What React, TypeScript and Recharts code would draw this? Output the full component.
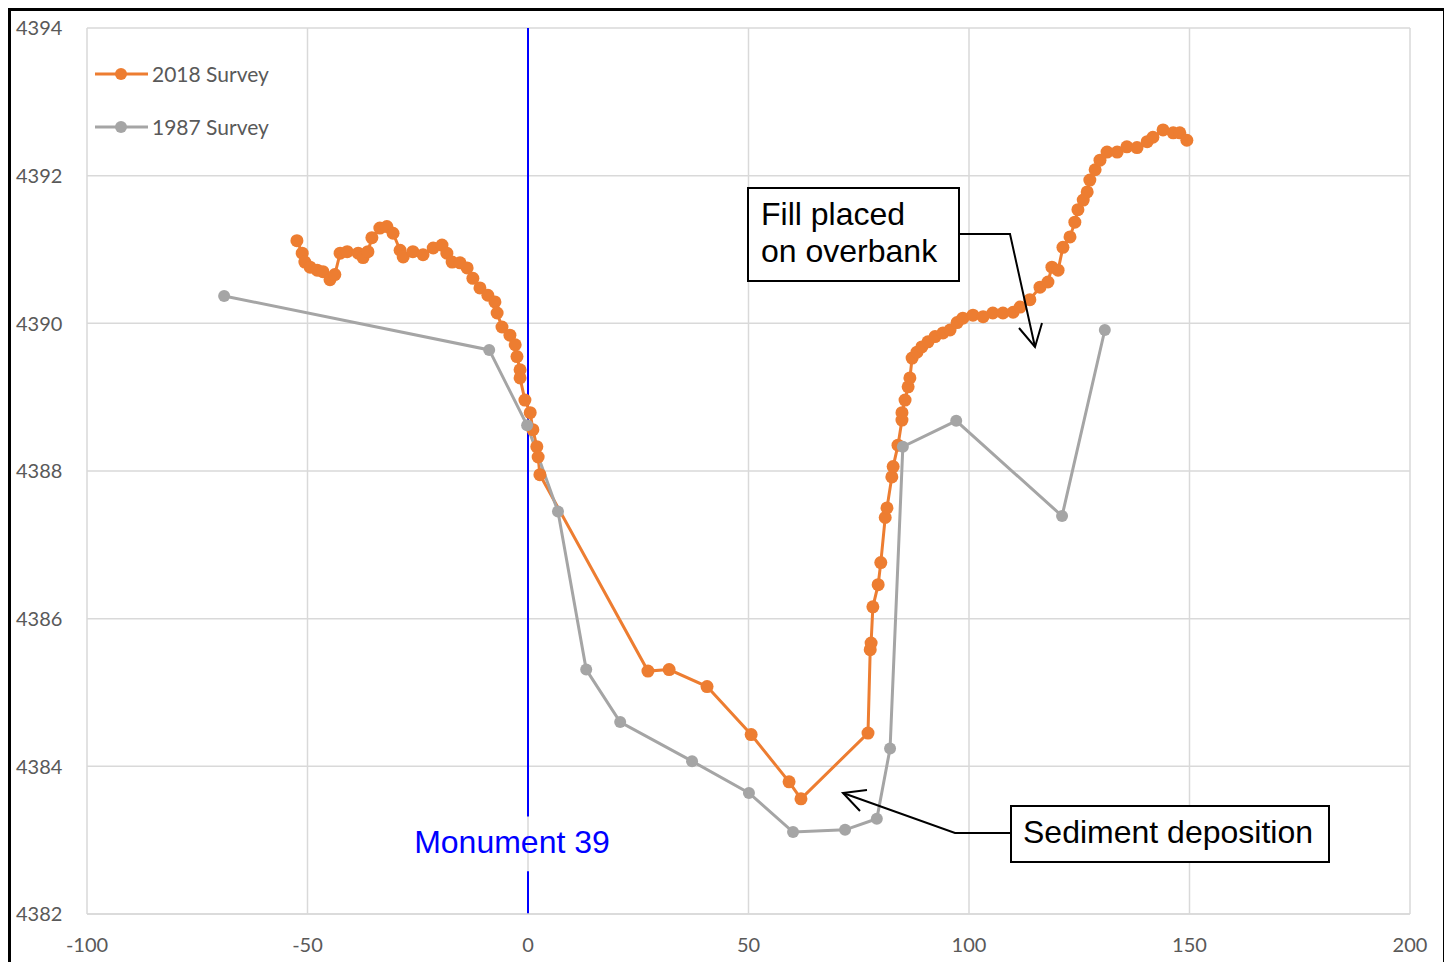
import React from 'react';
import { LineChart, Line, XAxis, YAxis, CartesianGrid, ReferenceLine } from 'recharts';

// ---- Data ----
const xTicks = [-100, -50, 0, 50, 100, 150, 200];
const yTicks = [4382, 4384, 4386, 4388, 4390, 4392, 4394];

const survey2018Station = [
  -52.4, -51.2, -50.6, -49.4, -47.8, -46.5, -44.9, -43.8, -42.6, -41.0,
  -38.5, -37.4, -36.3, -35.4, -33.6, -32.0, -30.6, -29.0, -28.3, -26.1,
  -23.8, -21.5, -19.5, -18.4, -17.2, -15.4, -13.8, -12.5, -10.9, -9.1,
  -7.5, -7.0, -5.9, -4.1, -2.9, -2.5, -1.8, -1.8, -0.7, 0.5,
  1.1, 2.0, 2.3, 2.7, 27.2, 32.0, 40.6, 50.6, 59.2, 61.9,
  77.1, 77.6, 77.8, 78.2, 79.4, 80.0, 81.0, 81.4, 82.5, 82.8,
  83.9, 84.8, 84.8, 85.5, 86.2, 86.6, 87.1, 88.2, 89.3, 90.7,
  92.3, 94.1, 95.7, 97.3, 98.6, 100.9, 103.2, 105.4, 107.7, 110.0,
  111.6, 113.8, 116.1, 117.9, 118.8, 120.2, 121.3, 122.9, 124.0, 124.7,
  125.9, 126.8, 127.4, 128.6, 129.7, 131.3, 133.6, 135.8, 138.1, 140.4,
  141.7, 144.0, 146.3, 147.8, 149.4,
];
const survey2018Elev = [
  4391.12, 4390.95, 4390.83, 4390.76, 4390.72, 4390.70, 4390.59, 4390.66, 4390.95, 4390.97,
  4390.95, 4390.89, 4390.97, 4391.16, 4391.29, 4391.31, 4391.22, 4390.99, 4390.90, 4390.97,
  4390.93, 4391.02, 4391.06, 4390.95, 4390.83, 4390.82, 4390.75, 4390.61, 4390.48, 4390.38,
  4390.29, 4390.14, 4389.95, 4389.84, 4389.71, 4389.55, 4389.37, 4389.26, 4388.96, 4388.79,
  4388.56, 4388.33, 4388.19, 4387.95, 4385.29, 4385.31, 4385.08, 4384.43, 4383.79, 4383.56,
  4384.45, 4385.58, 4385.67, 4386.16, 4386.46, 4386.76, 4387.37, 4387.50, 4387.92, 4388.06,
  4388.35, 4388.69, 4388.79, 4388.96, 4389.14, 4389.26, 4389.53, 4389.61, 4389.68, 4389.75,
  4389.82, 4389.87, 4389.91, 4390.01, 4390.07, 4390.11, 4390.09, 4390.14, 4390.14, 4390.15,
  4390.22, 4390.32, 4390.49, 4390.56, 4390.76, 4390.72, 4391.03, 4391.17, 4391.37, 4391.54,
  4391.67, 4391.78, 4391.94, 4392.08, 4392.21, 4392.32, 4392.32, 4392.39, 4392.38, 4392.46,
  4392.52, 4392.62, 4392.58, 4392.58, 4392.48,
];

const survey1987Station = [-68.9, -8.8, -0.2, 6.8, 13.2, 20.9, 37.2, 50.1, 60.1, 71.9, 79.1, 82.1, 85.0, 97.1, 121.1, 130.8];
const survey1987Elev = [4390.37, 4389.64, 4388.62, 4387.45, 4385.31, 4384.60, 4384.07, 4383.64, 4383.11, 4383.14, 4383.29, 4384.24, 4388.33, 4388.68, 4387.39, 4389.91];

const seriesNames = ['2018 Survey', '1987 Survey'];
const seriesColors = ['#ED7D31', '#A5A5A5'];

const data2018 = survey2018Station.map((x, i) => ({ x, y: survey2018Elev[i] }));
const data1987 = survey1987Station.map((x, i) => ({ x, y: survey1987Elev[i] }));

const TICK_FONT = 'Lato, "Open Sans", sans-serif';
const ANNOT_FONT = '"Liberation Sans", Arial, sans-serif';

const YTick = (props: any) => {
  const { y, payload } = props;
  return (
    <text x={5} y={y} dy="0.36em" fill="#595959" fontFamily={TICK_FONT} fontSize={20}>
      {payload.value}
    </text>
  );
};

const XTick = (props: any) => {
  const { x, payload } = props;
  return (
    <text x={x} y={934} dy="0.36em" textAnchor="middle" fill="#595959" fontFamily={TICK_FONT} fontSize={20}>
      {payload.value}
    </text>
  );
};

const Overlay = () => (
  <svg
    width={1432}
    height={950}
    style={{ position: 'absolute', left: 0, top: 0, pointerEvents: 'none' }}
  >
    {/* Legend */}
    {seriesNames.map((name, i) => {
      const cy = 63 + i * 53;
      return (
        <g key={name}>
          <line x1={84} x2={137} y1={cy} y2={cy} stroke={seriesColors[i]} strokeWidth={3} />
          <circle cx={110} cy={cy} r={6} fill={seriesColors[i]} />
          <text x={141} y={cy} dy="0.36em" fill="#595959" fontFamily={TICK_FONT} fontSize={21}>
            {name}
          </text>
        </g>
      );
    })}

    {/* Monument label */}
    <text x={501} y={842} textAnchor="middle" fill="#0000FF" fontFamily={ANNOT_FONT} fontSize={32}>
      Monument 39
    </text>

    {/* Fill placed annotation */}
    <rect x={737} y={177} width={211} height={93} fill="#fff" stroke="#000" strokeWidth={2} />
    <text x={750} y={214} fill="#000" fontFamily={ANNOT_FONT} fontSize={32}>Fill placed</text>
    <text x={750} y={251} fill="#000" fontFamily={ANNOT_FONT} fontSize={32}>on overbank</text>
    <polyline points="948,223 999,223 1024,336" fill="none" stroke="#000" strokeWidth={2} />
    <polyline points="1008,317 1024,336 1031,312" fill="none" stroke="#000" strokeWidth={2} />

    {/* Sediment deposition annotation */}
    <rect x={1000} y={795} width={318} height={56} fill="#fff" stroke="#000" strokeWidth={2} />
    <text x={1012} y={832} fill="#000" fontFamily={ANNOT_FONT} fontSize={32}>Sediment deposition</text>
    <polyline points="1000,822 944,822 832,782" fill="none" stroke="#000" strokeWidth={2} />
    <polyline points="856,779 832,782 849,800" fill="none" stroke="#000" strokeWidth={2} />
  </svg>
);

export default function App() {
  return (
    <div
      style={{
        position: 'relative',
        width: 1432,
        height: 960,
        border: '3px solid #000',
        background: '#fff',
      }}
    >
      <LineChart width={1432} height={950} margin={{ top: 17, right: 33, left: 0, bottom: 0 }}>
        <CartesianGrid stroke="#d9d9d9" strokeWidth={1.5} />
        <XAxis
          dataKey="x"
          type="number"
          domain={[-100, 200]}
          ticks={xTicks}
          height={47}
          tickLine={false}
          axisLine={{ stroke: '#d9d9d9', strokeWidth: 1.5 }}
          tick={<XTick />}
          allowDataOverflow
        />
        <YAxis
          type="number"
          domain={[4382, 4394]}
          ticks={yTicks}
          width={76}
          tickLine={false}
          axisLine={false}
          tick={<YTick />}
          allowDataOverflow
        />
        <ReferenceLine
          segment={[{ x: 0, y: 4394 }, { x: 0, y: 4383.32 }]}
          stroke="#0000FF"
          strokeWidth={2}
        />
        <ReferenceLine
          segment={[{ x: 0, y: 4382.58 }, { x: 0, y: 4382 }]}
          stroke="#0000FF"
          strokeWidth={2}
        />
        <Line
          data={data2018}
          dataKey="y"
          name={seriesNames[0]}
          type="linear"
          stroke={seriesColors[0]}
          strokeWidth={3}
          dot={{ r: 6.5, fill: seriesColors[0], stroke: seriesColors[0], strokeWidth: 0 }}
          isAnimationActive={false}
        />
        <Line
          data={data1987}
          dataKey="y"
          name={seriesNames[1]}
          type="linear"
          stroke={seriesColors[1]}
          strokeWidth={3}
          dot={{ r: 6, fill: seriesColors[1], stroke: seriesColors[1], strokeWidth: 0 }}
          isAnimationActive={false}
        />
      </LineChart>
      <Overlay />
    </div>
  );
}
